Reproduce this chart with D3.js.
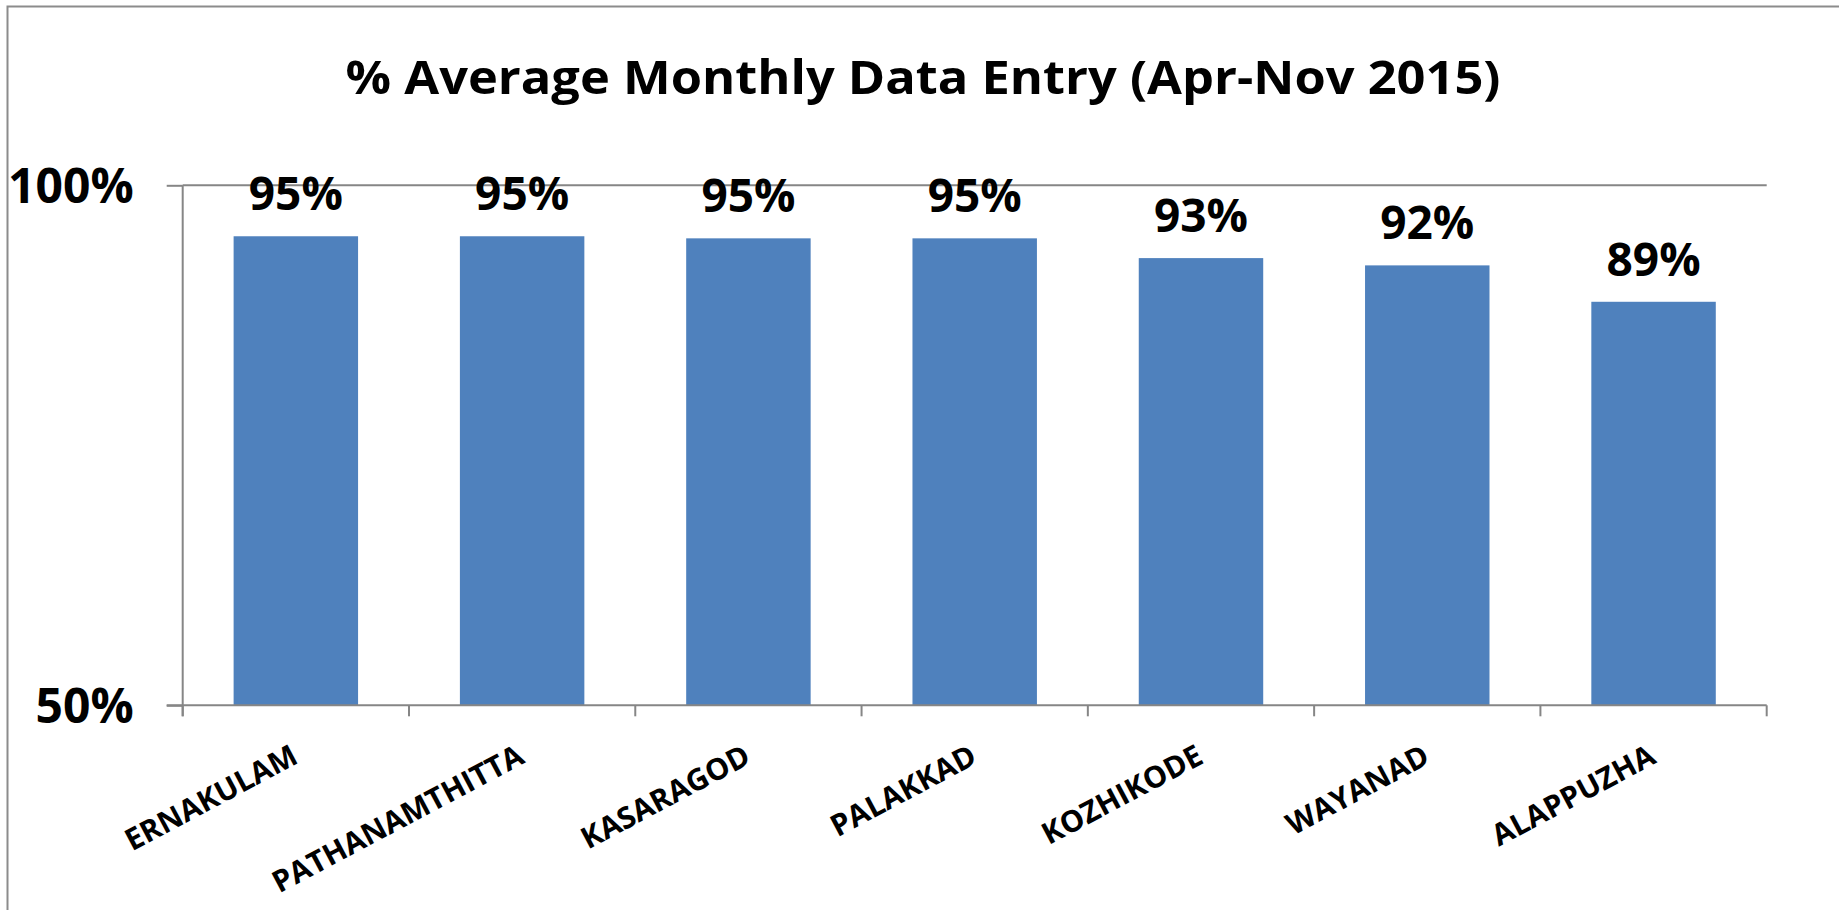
<!DOCTYPE html>
<html>
<head>
<meta charset="utf-8">
<script src="https://cdn.jsdelivr.net/npm/d3@7"></script>
<style>
  body { margin: 0; background: #fff; }
  text { font-family: "Open Sans", sans-serif; font-weight: bold; fill: #000; }
</style>
</head>
<body>
<div id="chart"></div>
<script>
// données
const districts = ['ERNAKULAM', 'PATHANAMTHITTA', 'KASARAGOD', 'PALAKKAD', 'KOZHIKODE', 'WAYANAD', 'ALAPPUZHA'];
const entryRate = [0.951, 0.951, 0.949, 0.949, 0.930, 0.923, 0.888];
const yTicks = [0.5, 1.0];
const title = '% Average Monthly Data Entry (Apr-Nov 2015)';

const W = 1839, H = 910;
const plot = { left: 182.7, right: 1766.7, top: 185.3, bottom: 705.3 };

const svg = d3.select('#chart')
  .append('svg')
  .attr('width', W)
  .attr('height', H);

// cadre du graphique
svg.append('rect')
  .attr('x', 7.5).attr('y', 6.5)
  .attr('width', 1900).attr('height', 1000)
  .attr('fill', 'none')
  .attr('stroke', '#8c8c8c')
  .attr('stroke-width', 2);

svg.append('text')
  .attr('x', 923).attr('y', 94)
  .attr('text-anchor', 'middle')
  .style('font-size', '47px')
  .attr('textLength', 1155)
  .attr('lengthAdjust', 'spacingAndGlyphs')
  .text(title);

const x = d3.scaleBand()
  .domain(districts)
  .range([plot.left, plot.right])
  .paddingInner(0.45)
  .paddingOuter(0.225);

const xTicks = d3.scaleBand().domain(districts).range([plot.left, plot.right]);

const y = d3.scaleLinear()
  .domain([0.5, 1.0])
  .range([plot.bottom, plot.top]);

// axe Y + grille
const yAxis = svg.append('g')
  .attr('transform', `translate(${plot.left},0)`)
  .call(d3.axisLeft(y).tickValues(yTicks).tickFormat(d3.format('.0%')).tickSize(16).tickPadding(33));
yAxis.select('.domain').remove();
yAxis.selectAll('line').attr('stroke', '#868686').attr('stroke-width', 2);
yAxis.selectAll('text').style('font-size', '48px').style('font-family', '"Open Sans", sans-serif').attr('dy', '0.36em');

svg.append('line')
  .attr('x1', plot.left).attr('x2', plot.right)
  .attr('y1', y(1)).attr('y2', y(1))
  .attr('stroke', '#868686').attr('stroke-width', 2);

svg.append('line')
  .attr('x1', plot.left).attr('x2', plot.left)
  .attr('y1', plot.top).attr('y2', plot.bottom + 11)
  .attr('stroke', '#868686').attr('stroke-width', 2);

// barres
svg.append('g')
  .selectAll('rect')
  .data(districts)
  .join('rect')
  .attr('x', d => x(d))
  .attr('y', (d, i) => y(entryRate[i]))
  .attr('width', x.bandwidth())
  .attr('height', (d, i) => y(0.5) - y(entryRate[i]))
  .attr('fill', '#4f81bd');

// étiquettes de valeur
svg.append('g')
  .selectAll('text')
  .data(districts)
  .join('text')
  .attr('x', d => x(d) + x.bandwidth() / 2)
  .attr('y', (d, i) => y(entryRate[i]) - 26)
  .attr('text-anchor', 'middle')
  .style('font-size', '46px')
  .text((d, i) => d3.format('.0%')(entryRate[i]));

// axe X
const xAxis = svg.append('g')
  .attr('transform', `translate(0,${plot.bottom})`)
  .call(d3.axisBottom(xTicks).tickSize(0).tickFormat(''));
xAxis.select('.domain').attr('stroke', '#868686').attr('stroke-width', 2)
  .attr('d', `M${plot.left - 16},0H${plot.right}`);

svg.append('g')
  .selectAll('line')
  .data(districts.concat(['__end']))
  .join('line')
  .attr('x1', (d, i) => i < districts.length ? xTicks(d) : plot.right)
  .attr('x2', (d, i) => i < districts.length ? xTicks(d) : plot.right)
  .attr('y1', plot.bottom).attr('y2', plot.bottom + 11)
  .attr('stroke', '#868686').attr('stroke-width', 2);

svg.append('g')
  .selectAll('text')
  .data(districts)
  .join('text')
  .attr('text-anchor', 'end')
  .attr('transform', d => `translate(${xTicks(d) + xTicks.bandwidth() / 2 + 4},${plot.bottom + 57}) rotate(-28)`)
  .style('font-size', '30px')
  .text(d => d);
</script>
</body>
</html>
